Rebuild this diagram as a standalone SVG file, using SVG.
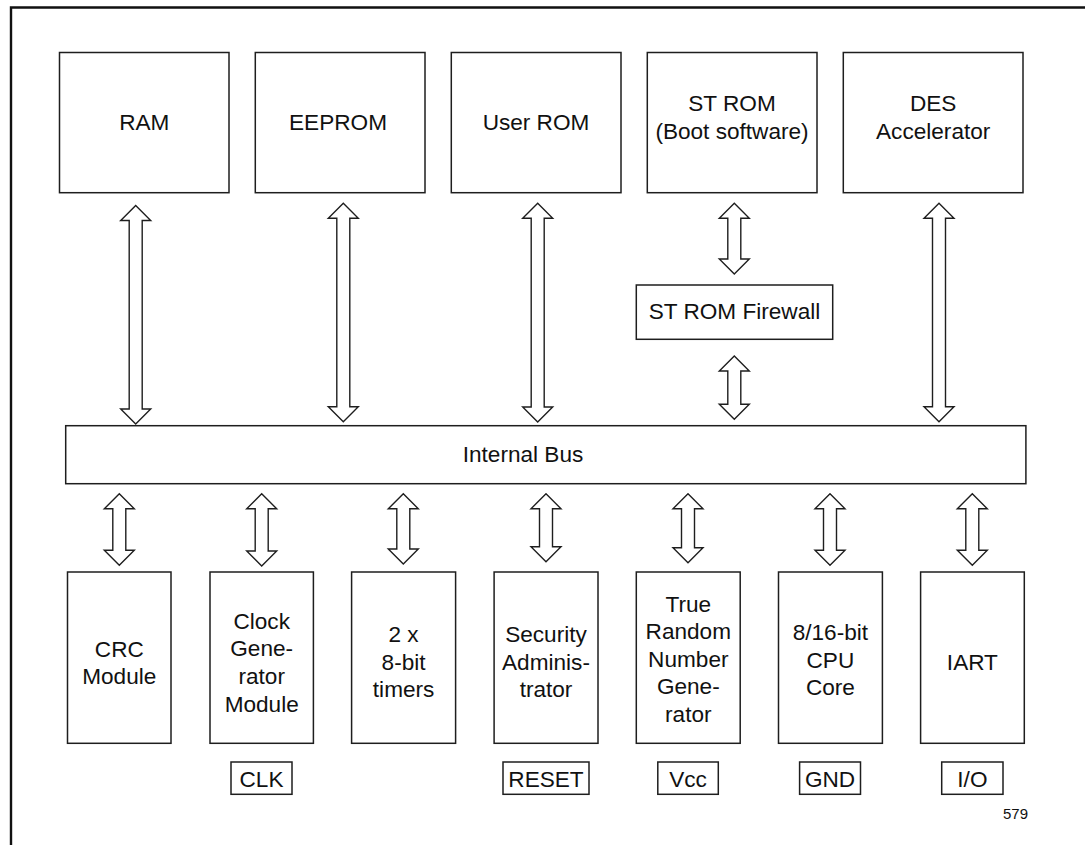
<svg xmlns="http://www.w3.org/2000/svg" width="1085" height="845" viewBox="0 0 1085 845">
<style>
.box{fill:#fff;stroke:#1e1e1e;stroke-width:1.5}
.arr{fill:#fff;stroke:#1e1e1e;stroke-width:1.4;stroke-linejoin:miter}
.t{font-family:"Liberation Sans",Arial,sans-serif;font-size:22.6px;fill:#111;text-anchor:middle}
.s{font-family:"Liberation Sans",Arial,sans-serif;font-size:15px;fill:#111}
.frame{fill:none;stroke:#111;stroke-width:2.4}
</style>
<rect width="1085" height="845" fill="#fff"/>
<path class="frame" d="M1085,7.5 L11,7.5 L11,845"/>

<g id="ram"><rect class="box" x="59.5" y="52.5" width="169.5" height="140.2"/><text class="t" x="144.3" y="130">RAM</text></g>
<g id="eeprom"><rect class="box" x="255.3" y="52.5" width="169.7" height="140.2"/><text class="t" x="338" y="130">EEPROM</text></g>
<g id="userrom"><rect class="box" x="451.3" y="52.5" width="169.7" height="140.2"/><text class="t" x="536" y="130">User ROM</text></g>
<g id="strom"><rect class="box" x="647.3" y="52.5" width="169.7" height="140.2"/><text class="t" x="732" y="110.7">ST ROM</text><text class="t" x="732" y="138.5">(Boot software)</text></g>
<g id="des"><rect class="box" x="843.3" y="52.5" width="179.7" height="140.2"/><text class="t" x="933.2" y="110.7">DES</text><text class="t" x="933.2" y="138.5">Accelerator</text></g>
<g id="firewall"><rect class="box" x="636.3" y="285" width="196.4" height="54.3"/><text class="t" x="734.5" y="319.3">ST ROM Firewall</text></g>
<g id="bus"><rect class="box" x="65.7" y="425.7" width="960.2" height="58"/><text class="t" x="523" y="461.7">Internal Bus</text></g>

<g id="crc"><rect class="box" x="67.5" y="572" width="103.5" height="171.3"/><text class="t" x="119.3" y="656.5">CRC</text><text class="t" x="119.3" y="684">Module</text></g>
<g id="clock"><rect class="box" x="210" y="572" width="103.4" height="171.3"/><text class="t" x="261.7" y="628.5">Clock</text><text class="t" x="261.7" y="656">Gene-</text><text class="t" x="261.7" y="683.8">rator</text><text class="t" x="261.7" y="711.5">Module</text></g>
<g id="timers"><rect class="box" x="351.6" y="572" width="104" height="171.3"/><text class="t" x="403.6" y="642">2 x</text><text class="t" x="403.6" y="669.6">8-bit</text><text class="t" x="403.6" y="697.2">timers</text></g>
<g id="security"><rect class="box" x="494.1" y="572" width="103.9" height="171.3"/><text class="t" x="546" y="642">Security</text><text class="t" x="546" y="669.6">Adminis-</text><text class="t" x="546" y="697.2">trator</text></g>
<g id="trng"><rect class="box" x="636.3" y="572" width="103.9" height="171.3"/><text class="t" x="688.3" y="611.5">True</text><text class="t" x="688.3" y="639">Random</text><text class="t" x="688.3" y="666.7">Number</text><text class="t" x="688.3" y="694.3">Gene-</text><text class="t" x="688.3" y="722">rator</text></g>
<g id="cpu"><rect class="box" x="778.5" y="572" width="103.9" height="171.3"/><text class="t" x="830.4" y="640">8/16-bit</text><text class="t" x="830.4" y="667.5">CPU</text><text class="t" x="830.4" y="695">Core</text></g>
<g id="iart"><rect class="box" x="920.6" y="572" width="103.7" height="171.3"/><text class="t" x="972.4" y="670">IART</text></g>

<g id="clk"><rect class="box" x="231" y="762" width="61" height="32.3"/><text class="t" x="261.5" y="786.7">CLK</text></g>
<g id="reset"><rect class="box" x="503" y="762" width="86" height="32.3"/><text class="t" x="546" y="786.7">RESET</text></g>
<g id="vcc"><rect class="box" x="657.8" y="762" width="60.5" height="32.3"/><text class="t" x="688" y="786.7">Vcc</text></g>
<g id="gnd"><rect class="box" x="799.6" y="762" width="60.9" height="32.3"/><text class="t" x="830" y="786.7">GND</text></g>
<g id="io"><rect class="box" x="941.7" y="762" width="61.3" height="32.3"/><text class="t" x="972.4" y="786.7">I/O</text></g>

<g id="connectors">
<path class="arr" d="M135.7,205.5 L150.7,220.5 L142.2,220.5 L142.2,409 L150.7,409 L135.7,424 L120.7,409 L129.2,409 L129.2,220.5 L120.7,220.5 Z"/>
<path class="arr" d="M343.3,203.3 L358.3,218.3 L349.8,218.3 L349.8,406.7 L358.3,406.7 L343.3,421.7 L328.3,406.7 L336.8,406.7 L336.8,218.3 L328.3,218.3 Z"/>
<path class="arr" d="M537.7,203.3 L552.7,218.3 L544.2,218.3 L544.2,407 L552.7,407 L537.7,422 L522.7,407 L531.2,407 L531.2,218.3 L522.7,218.3 Z"/>
<path class="arr" d="M734.3,203.3 L749.3,218.3 L740.8,218.3 L740.8,259 L749.3,259 L734.3,274 L719.3,259 L727.8,259 L727.8,218.3 L719.3,218.3 Z"/>
<path class="arr" d="M734.3,356 L749.3,371 L740.8,371 L740.8,404.3 L749.3,404.3 L734.3,419.3 L719.3,404.3 L727.8,404.3 L727.8,371 L719.3,371 Z"/>
<path class="arr" d="M939,203.3 L954,218.3 L945.5,218.3 L945.5,406.7 L954,406.7 L939,421.7 L924,406.7 L932.5,406.7 L932.5,218.3 L924,218.3 Z"/>
<path class="arr" d="M119.3,493.7 L134.3,508.7 L125.8,508.7 L125.8,550.3 L134.3,550.3 L119.3,565.3 L104.3,550.3 L112.8,550.3 L112.8,508.7 L104.3,508.7 Z"/>
<path class="arr" d="M261.7,493.7 L276.7,508.7 L268.2,508.7 L268.2,551 L276.7,551 L261.7,566 L246.7,551 L255.2,551 L255.2,508.7 L246.7,508.7 Z"/>
<path class="arr" d="M403.3,493.7 L418.3,508.7 L409.8,508.7 L409.8,549 L418.3,549 L403.3,564 L388.3,549 L396.8,549 L396.8,508.7 L388.3,508.7 Z"/>
<path class="arr" d="M546,493.7 L561,508.7 L552.5,508.7 L552.5,546.7 L561,546.7 L546,561.7 L531,546.7 L539.5,546.7 L539.5,508.7 L531,508.7 Z"/>
<path class="arr" d="M688,493.7 L703,508.7 L694.5,508.7 L694.5,547.7 L703,547.7 L688,562.7 L673,547.7 L681.5,547.7 L681.5,508.7 L673,508.7 Z"/>
<path class="arr" d="M830,493.7 L845,508.7 L836.5,508.7 L836.5,550.3 L845,550.3 L830,565.3 L815,550.3 L823.5,550.3 L823.5,508.7 L815,508.7 Z"/>
<path class="arr" d="M972.3,493.7 L987.3,508.7 L978.8,508.7 L978.8,550.3 L987.3,550.3 L972.3,565.3 L957.3,550.3 L965.8,550.3 L965.8,508.7 L957.3,508.7 Z"/>
</g>

<text class="s" x="1003" y="819.3">579</text>
</svg>
